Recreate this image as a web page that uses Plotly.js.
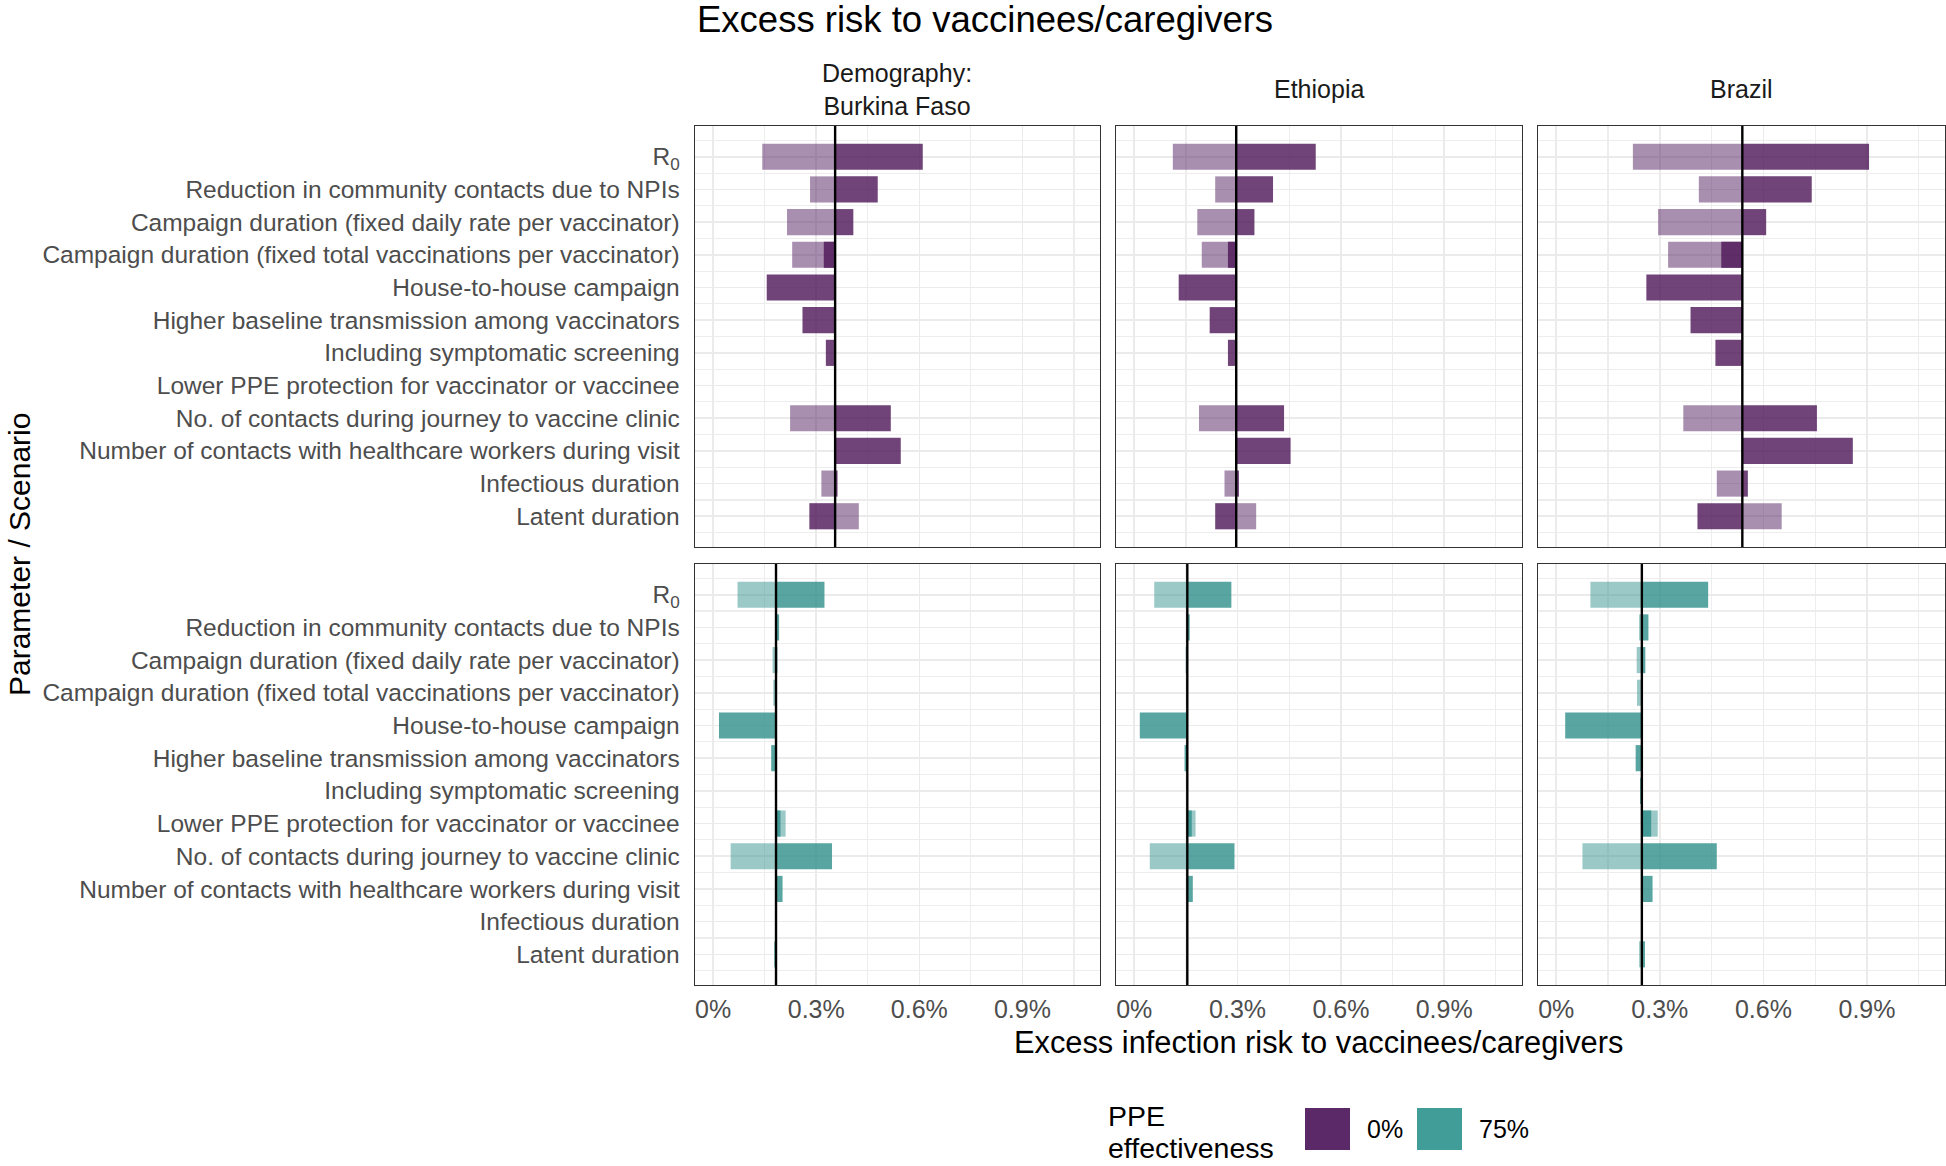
<!DOCTYPE html>
<html>
<head>
<meta charset="utf-8">
<script src="https://cdn.plot.ly/plotly-3.0.1.min.js"></script>
<style>body{margin:0;background:#fff;}</style>
</head>
<body>
<div id="chart" style="width:1946px;height:1166px;"></div>
<script>
// parameters, top to bottom
var params = ['R<sub>0</sub>',
  'Reduction in community contacts due to NPIs',
  'Campaign duration (fixed daily rate per vaccinator)',
  'Campaign duration (fixed total vaccinations per vaccinator)',
  'House-to-house campaign',
  'Higher baseline transmission among vaccinators',
  'Including symptomatic screening',
  'Lower PPE protection for vaccinator or vaccinee',
  'No. of contacts during journey to vaccine clinic',
  'Number of contacts with healthcare workers during visit',
  'Infectious duration',
  'Latent duration'];
var countries = ['Demography:<br>Burkina Faso', 'Ethiopia', 'Brazil'];
var ppeLevels = ['0%', '75%'];

// baseline excess risk (%) per country, PPE 0% and 75%
var baseline0 = [0.355, 0.296, 0.539];
var baseline75 = [0.183, 0.154, 0.248];

// PPE 0%: light bars (low value) and dark bars (high value), in %
var bf0Low  = [0.143, 0.282, 0.215, 0.230, null, null, null, null, 0.224, null, 0.315, 0.424];
var bf0High = [0.610, 0.479, 0.408, 0.322, 0.156, 0.260, 0.328, null, 0.517, 0.546, 0.362, 0.280];
var et0Low  = [0.112, 0.235, 0.183, 0.196, null, null, null, null, 0.188, null, 0.262, 0.354];
var et0High = [0.527, 0.403, 0.349, 0.272, 0.129, 0.219, 0.272, null, 0.435, 0.454, 0.304, 0.235];
var br0Low  = [0.222, 0.413, 0.295, 0.324, null, null, null, null, 0.368, null, 0.465, 0.653];
var br0High = [0.906, 0.740, 0.608, 0.478, 0.261, 0.389, 0.461, null, 0.755, 0.859, 0.555, 0.409];

// PPE 75%
var bf75Low  = [0.071, null, 0.173, 0.175, null, null, null, 0.211, 0.051, null, null, null];
var bf75High = [0.324, 0.192, 0.187, null, 0.017, 0.169, null, 0.196, 0.346, 0.202, null, 0.178];
var et75Low  = [0.058, null, 0.149, 0.151, null, null, null, 0.178, 0.045, null, null, null];
var et75High = [0.282, 0.161, null, null, 0.016, 0.146, null, 0.167, 0.291, 0.170, null, null];
var br75Low  = [0.099, 0.240, 0.233, 0.234, null, null, null, 0.294, 0.076, null, null, 0.240];
var br75High = [0.440, 0.267, 0.258, null, 0.026, 0.230, 0.243, 0.275, 0.465, 0.279, null, 0.257];

var xTicks = [0, 0.3, 0.6, 0.9];
var xTickText = ['0%', '0.3%', '0.6%', '0.9%'];

var ppeColors = ['#4C1558', '#2E8F89'];
var swatchColors = ['#5B2868', '#419D98'];

var FONT = 'Liberation Sans, Arial, sans-serif';

var panels = [
  [[bf0Low, bf0High], [et0Low, et0High], [br0Low, br0High]],
  [[bf75Low, bf75High], [et75Low, et75High], [br75Low, br75High]]
];
var baselines = [baseline0, baseline75];

var colDom = [[0.3571, 0.5653], [0.5735, 0.7821], [0.7903, 0.9995]];
var rowDom = [[0.5309, 0.8919], [0.1552, 0.5163]];

var idx = params.map(function(p, i) { return i; });
var halfIdx = [-0.5].concat(idx.map(function(i) { return i + 0.5; }));

var data = [];
var layout = {
  width: 1946, height: 1166,
  margin: {l: 0, r: 0, t: 0, b: 0},
  paper_bgcolor: 'white', plot_bgcolor: 'white',
  font: {family: FONT, color: '#4D4D4D'},
  barmode: 'overlay',
  showlegend: false,
  shapes: [], annotations: []
};

function diffs(vals, base) {
  return vals.map(function(v) { return v === null ? null : v - base; });
}

for (var r = 0; r < 2; r++) {
  for (var c = 0; c < 3; c++) {
    var k = r * 3 + c + 1;
    var sfx = k === 1 ? '' : String(k);
    var base = baselines[r][c];
    var pair = panels[r][c];
    // light = low value, dark = high value
    [[pair[0], 0.48], [pair[1], 0.8]].forEach(function(s) {
      data.push({
        type: 'bar', orientation: 'h',
        y: idx, x: diffs(s[0], base), base: base,
        width: 0.8,
        marker: {color: ppeColors[r], opacity: s[1], line: {width: 0}},
        xaxis: 'x' + sfx, yaxis: 'y' + sfx,
        name: ppeLevels[r], hoverinfo: 'x+y'
      });
    });
    layout['xaxis' + sfx] = {
      domain: colDom[c], anchor: 'y' + sfx,
      range: [-0.053, 1.126],
      tickmode: 'array', tickvals: xTicks, ticktext: xTickText,
      showticklabels: r === 1,
      tickfont: {size: 25, color: '#4D4D4D'},
      ticks: '', ticklabelstandoff: 2,
      showgrid: true, gridcolor: '#EBEBEB', gridwidth: 1.6,
      minor: {tickmode: 'array', tickvals: [0.15, 0.45, 0.75, 1.05], showgrid: true, gridcolor: '#EDEDED', gridwidth: 1.2},
      zeroline: false,
      showline: true, mirror: true, linecolor: '#333333', linewidth: 1.3
    };
    layout['yaxis' + sfx] = {
      domain: rowDom[r], anchor: 'x' + sfx,
      range: [11.94, -0.94],
      tickmode: 'array', tickvals: idx, ticktext: params,
      showticklabels: c === 0,
      tickfont: {size: 24.5, color: '#4D4D4D'},
      ticks: '', ticklabelstandoff: 9,
      showgrid: true, gridcolor: '#EBEBEB', gridwidth: 1.6,
      minor: {tickmode: 'array', tickvals: halfIdx, showgrid: true, gridcolor: '#EDEDED', gridwidth: 1.2},
      zeroline: false,
      showline: true, mirror: true, linecolor: '#333333', linewidth: 1.3
    };
    layout.shapes.push({
      type: 'line', xref: 'x' + sfx, yref: 'y' + sfx + ' domain',
      x0: base, x1: base, y0: 0, y1: 1,
      line: {color: 'black', width: 2.4}
    });
  }
}

// strip labels
countries.forEach(function(name, c) {
  layout.annotations.push({
    text: name, xref: 'paper', yref: 'paper',
    x: (colDom[c][0] + colDom[c][1]) / 2, y: 1 - 89 / 1166,
    xanchor: 'center', yanchor: 'middle', showarrow: false,
    font: {size: 25, color: '#1A1A1A'}
  });
});

// titles
layout.annotations.push({
  text: 'Excess risk to vaccinees/caregivers', xref: 'paper', yref: 'paper',
  x: 695 / 1946, y: 1 - 20 / 1166, xanchor: 'left', yanchor: 'middle',
  showarrow: false, font: {size: 36.5, color: 'black'}
});
layout.annotations.push({
  text: 'Excess infection risk to vaccinees/caregivers', xref: 'paper', yref: 'paper',
  x: (colDom[1][0] + colDom[1][1]) / 2, y: 1 - 1042 / 1166, xanchor: 'center', yanchor: 'middle',
  showarrow: false, font: {size: 30.8, color: 'black'}
});
layout.annotations.push({
  text: 'Parameter / Scenario', xref: 'paper', yref: 'paper',
  x: 19 / 1946, y: 1 - 555 / 1166, xanchor: 'center', yanchor: 'middle', textangle: -90,
  showarrow: false, font: {size: 30, color: 'black'}
});

// legend (drawn by hand to match the large swatches)
['PPE', 'effectiveness'].forEach(function(line, i) {
  layout.annotations.push({
    text: line, xref: 'paper', yref: 'paper',
    x: 1107 / 1946, y: 1 - (1116 + i * 32) / 1166, xanchor: 'left', yanchor: 'middle',
    showarrow: false, borderpad: 0, font: {size: 28.5, color: 'black'}
  });
});
var swatchX = [1305, 1417];
ppeLevels.forEach(function(lab, i) {
  layout.shapes.push({
    type: 'rect', xref: 'paper', yref: 'paper',
    x0: swatchX[i] / 1946, x1: (swatchX[i] + 45) / 1946,
    y0: 1 - 1150 / 1166, y1: 1 - 1108 / 1166,
    fillcolor: swatchColors[i], line: {width: 0}
  });
  layout.annotations.push({
    text: lab, xref: 'paper', yref: 'paper',
    x: (swatchX[i] + 60) / 1946, y: 1 - 1129 / 1166, xanchor: 'left', yanchor: 'middle',
    showarrow: false, font: {size: 25, color: 'black'}
  });
});

Plotly.newPlot('chart', data, layout, {displayModeBar: false, staticPlot: true});
</script>
</body>
</html>
